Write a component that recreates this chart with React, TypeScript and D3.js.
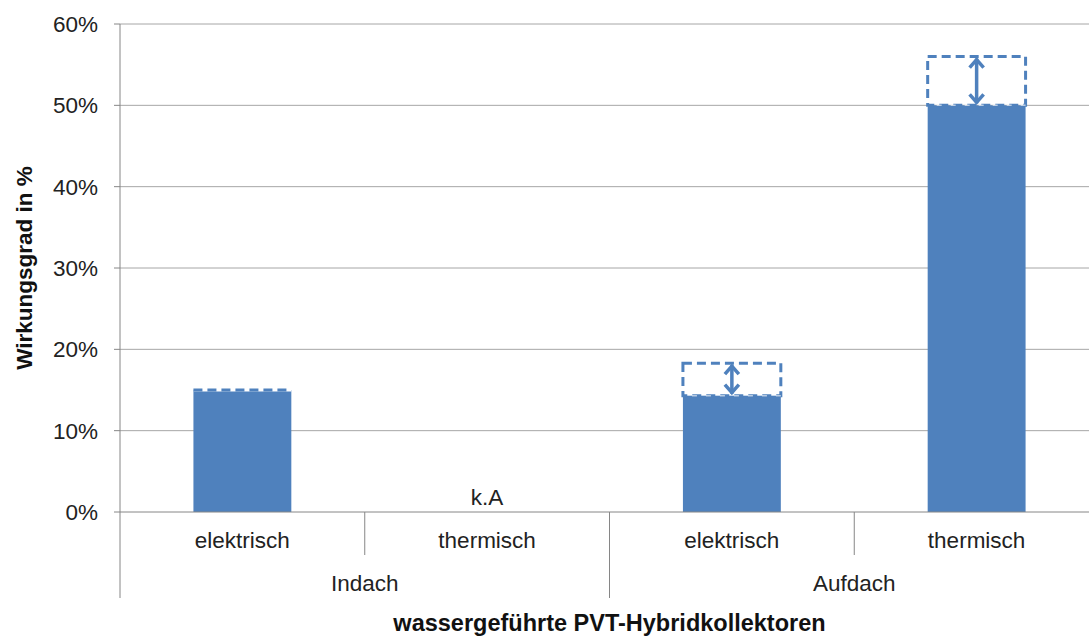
import React from "react";
import * as d3 from "d3";

const groupNames = ["Indach", "Aufdach"];
const categories = ["elektrisch", "thermisch", "elektrisch", "thermisch"];
const values: (number | null)[] = [0.15, null, 0.143, 0.5];
const upper: (number | null)[] = [0.15, null, 0.183, 0.56];
const yTicks = [0, 0.1, 0.2, 0.3, 0.4, 0.5, 0.6];

const W = 1089, H = 637;
const left = 120, right = 1099, top = 24, bottom = 512;
const blue = "#4F81BD";
const font = "Liberation Sans, Arial, sans-serif";
const fs = 22.5;

export default function App() {
  const y = d3.scaleLinear().domain([0, 0.6]).range([bottom, top]);
  const x = d3.scaleBand<number>().domain(d3.range(categories.length)).range([left, right]).paddingInner(0).paddingOuter(0);
  const bw = x.bandwidth() * 0.4;
  const gx = d3.scaleBand<string>().domain(groupNames).range([left, right]);
  return (
    <svg width={W} height={H} style={{ position: "absolute", left: 0, top: 0 }}>
      <rect width={W} height={H} fill="#fff" />
      {yTicks.map((t) => (
        <g key={t}>
          {t > 0 && <line x1={left} x2={right} y1={y(t)} y2={y(t)} stroke="#a6a6a6" strokeWidth={1} />}
          <line x1={left - 6} x2={left} y1={y(t)} y2={y(t)} stroke="#868686" />
          <text x={98} y={y(t) + 8} textAnchor="end" fontFamily={font} fontSize={fs} fill="#222">{`${Math.round(t * 100)}%`}</text>
        </g>
      ))}
      <line x1={left} x2={left} y1={top} y2={bottom} stroke="#868686" />
      {values.map((v, i) => {
        const cx = x(i)! + x.bandwidth() / 2;
        if (v == null) {
          return <text key={i} x={cx} y={y(0) - 7} textAnchor="middle" fontFamily={font} fontSize={fs} fill="#222">k.A</text>;
        }
        const u = upper[i]!;
        const yt = y(u) + 2, yb = y(v) - 2;
        return (
          <g key={i}>
            <rect x={cx - bw / 2} y={y(v)} width={bw} height={y(0) - y(v)} fill={blue} />
            {u > v ? (
              <>
                <rect x={cx - bw / 2} y={y(u)} width={bw} height={y(v) - y(u)} fill="none" stroke={blue} strokeWidth={3} strokeDasharray="9,5" />
                <line x1={cx} x2={cx} y1={yt} y2={yb} stroke={blue} strokeWidth={3.5} />
                <polyline points={`${cx - 7},${yt + 9} ${cx},${yt + 1} ${cx + 7},${yt + 9}`} fill="none" stroke={blue} strokeWidth={3.5} strokeLinejoin="miter" />
                <polyline points={`${cx - 7},${yb - 9} ${cx},${yb - 1} ${cx + 7},${yb - 9}`} fill="none" stroke={blue} strokeWidth={3.5} strokeLinejoin="miter" />
                <line x1={cx - bw / 2} x2={cx + bw / 2} y1={y(v)} y2={y(v)} stroke="#fff" strokeWidth={1.5} strokeDasharray="0,9,5,0" opacity={0.6} />
              </>
            ) : (
              <>
                <line x1={cx - bw / 2} x2={cx + bw / 2} y1={y(v)} y2={y(v)} stroke="#fff" strokeWidth={3} />
                <line x1={cx - bw / 2} x2={cx + bw / 2} y1={y(v)} y2={y(v)} stroke={blue} strokeWidth={3} strokeDasharray="9,5" />
              </>
            )}
          </g>
        );
      })}
      <line x1={left} x2={right} y1={bottom} y2={bottom} stroke="#868686" />
      {categories.map((c, i) => {
        const cx = x(i)! + x.bandwidth() / 2;
        return (
          <g key={i}>
            <text x={cx} y={548} textAnchor="middle" fontFamily={font} fontSize={fs} fill="#222">{c}</text>
            {i % 2 === 1 && <line x1={x(i)!} x2={x(i)!} y1={bottom} y2={555} stroke="#868686" />}
          </g>
        );
      })}
      {groupNames.map((g) => (
        <g key={g}>
          <text x={gx(g)! + gx.bandwidth() / 2} y={591} textAnchor="middle" fontFamily={font} fontSize={fs} fill="#222">{g}</text>
          <line x1={gx(g)!} x2={gx(g)!} y1={bottom} y2={598} stroke="#868686" />
        </g>
      ))}
      <line x1={right} x2={right} y1={bottom} y2={598} stroke="#868686" />
      <text x={(left + right) / 2} y={631} textAnchor="middle" fontFamily={font} fontSize={23.5} fontWeight="bold" fill="#111">wassergeführte PVT-Hybridkollektoren</text>
      <text transform={`translate(32, ${(top + bottom) / 2}) rotate(-90)`} textAnchor="middle" fontFamily={font} fontSize={fs} fontWeight="bold" fill="#111">Wirkungsgrad in %</text>
    </svg>
  );
}
